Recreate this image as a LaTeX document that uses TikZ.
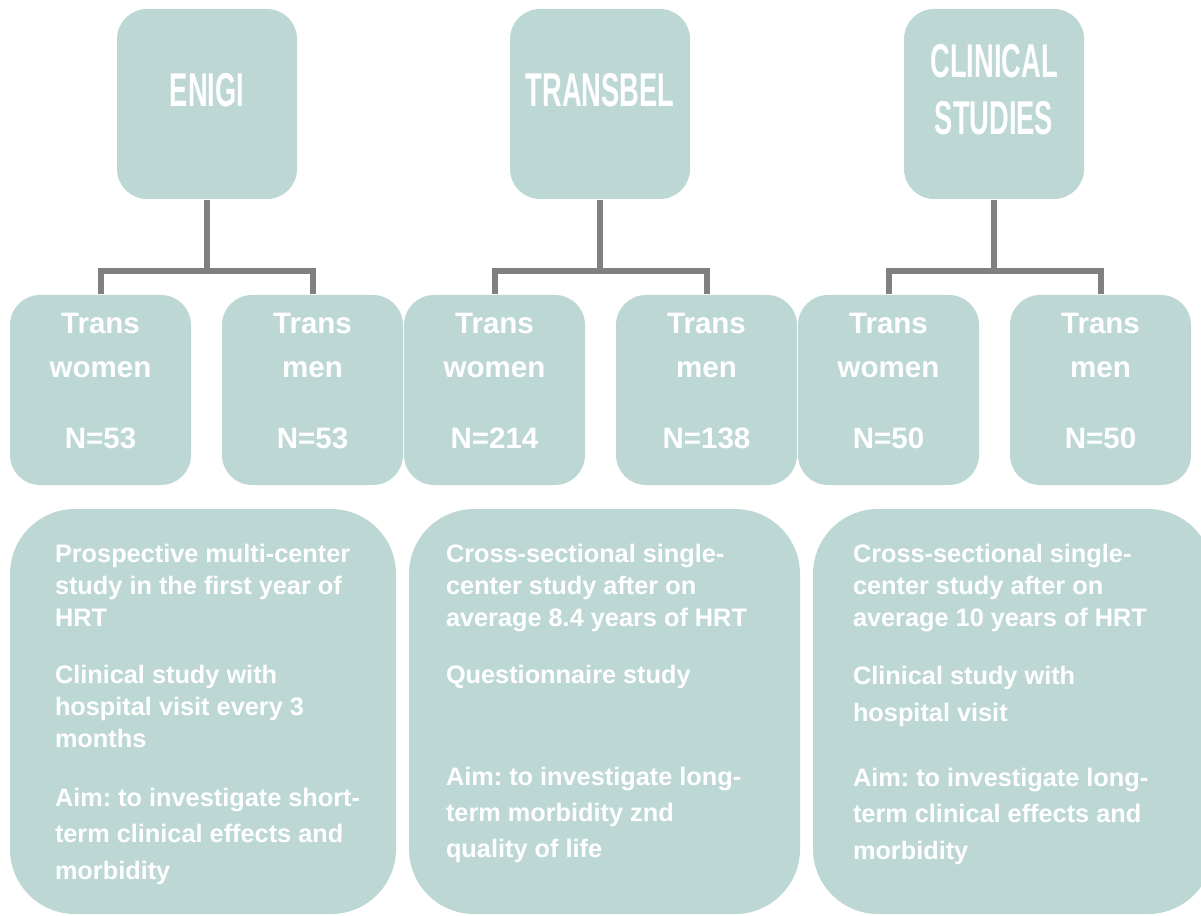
\documentclass[tikz,border=0pt]{standalone}
\usepackage{fontspec}
\setmainfont{Liberation Sans}
\newfontfamily\titlefont[FakeStretch=0.575]{Liberation Sans}
\usepackage{tikz}
\definecolor{boxfill}{HTML}{BDD8D4}
\definecolor{linkgray}{HTML}{808080}
\frenchspacing

\begin{document}
\begin{tikzpicture}[x=0.1mm,y=-0.1mm,
	studybox/.style={fill=boxfill,rounded corners=3mm,inner sep=0pt,
		minimum width=18mm,minimum height=19mm,text=white,align=center,
		font=\titlefont\bfseries\fontsize{13.5}{16.2}\selectfont,text depth=2.9mm},
	groupbox/.style={fill=boxfill,rounded corners=3mm,inner sep=0pt,
		minimum width=18.1mm,minimum height=19mm,text=white,align=center,
		font=\bfseries\fontsize{8.4}{12.5}\selectfont,text depth=1.8mm},
	infobox/.style={fill=boxfill,rounded corners=6.5mm,inner sep=0pt,minimum height=40.5mm},
	infotext/.style={anchor=base west,inner sep=0pt,align=left,text=white,
		font=\bfseries\fontsize{7.2}{9.1}\selectfont},
	link/.style={draw=linkgray,line width=0.6mm}]
\path[use as bounding box,clip] (0,0) rectangle (1201,915);
% studies
\node[studybox] (enigi) at (207,104) {ENIGI};
\node[studybox] (transbel) at (600,104) {TRANSBEL};
\node[studybox] (clinical) at (994,104) {CLINICAL\\STUDIES};
% groups
\node[groupbox] (enigiw) at (100.5,390) {Trans\\women\\[2.7mm]N=53};
\node[groupbox] (enigim) at (312.5,390) {Trans\\men\\[2.7mm]N=53};
\node[groupbox] (transbelw) at (494.5,390) {Trans\\women\\[2.7mm]N=214};
\node[groupbox] (transbelm) at (706.5,390) {Trans\\men\\[2.7mm]N=138};
\node[groupbox] (clinicalw) at (888.5,390) {Trans\\women\\[2.7mm]N=50};
\node[groupbox] (clinicalm) at (1100.5,390) {Trans\\men\\[2.7mm]N=50};
% tree lines
\coordinate (enigifork) at (207,271);
\coordinate (transbelfork) at (600,271);
\coordinate (clinicalfork) at (994,271);
\draw[link] (enigi.south) -- (enigifork);
\draw[link] (enigiw.north) -- (enigiw.north |- enigifork) -| (enigim.north);
\draw[link] (transbel.south) -- (transbelfork);
\draw[link] (transbelw.north) -- (transbelw.north |- transbelfork) -| (transbelm.north);
\draw[link] (clinical.south) -- (clinicalfork);
\draw[link] (clinicalw.north) -- (clinicalw.north |- clinicalfork) -| (clinicalm.north);
% descriptions (base = last line)
\node[infobox,minimum width=38.6mm] (enigiinfo) at (203,711.5) {};
\node[infobox,minimum width=39.1mm] (transbelinfo) at (604.5,711.5) {};
\node[infobox,minimum width=40mm] (clinicalinfo) at (1013,711.5) {};
\node[infotext] (enigidesc) at ([shift={(45,371)}]enigiinfo.north west)
	{Prospective multi-center\\study in the first year of\\HRT\\[2.5mm]
	Clinical study with\\hospital visit every 3\\months\\[2.7mm]
	Aim: to investigate short-\\[0.4mm]term clinical effects and\\[0.5mm]morbidity};
\node[infotext] (transbeldesc) at ([shift={(37,349)}]transbelinfo.north west)
	{Cross-sectional single-\\center study after on\\average 8.4 years of HRT\\[2.5mm]
	Questionnaire study\\[7mm]
	Aim: to investigate long-\\[0.4mm]term morbidity znd\\[0.4mm]quality of life};
\node[infotext] (clinicaldesc) at ([shift={(40,351)}]clinicalinfo.north west)
	{Cross-sectional single-\\center study after on\\average 10 years of HRT\\[2.6mm]
	Clinical study with\\[0.5mm]hospital visit\\[3.3mm]
	Aim: to investigate long-\\[0.4mm]term clinical effects and\\[0.5mm]morbidity};
\end{tikzpicture}
\end{document}
